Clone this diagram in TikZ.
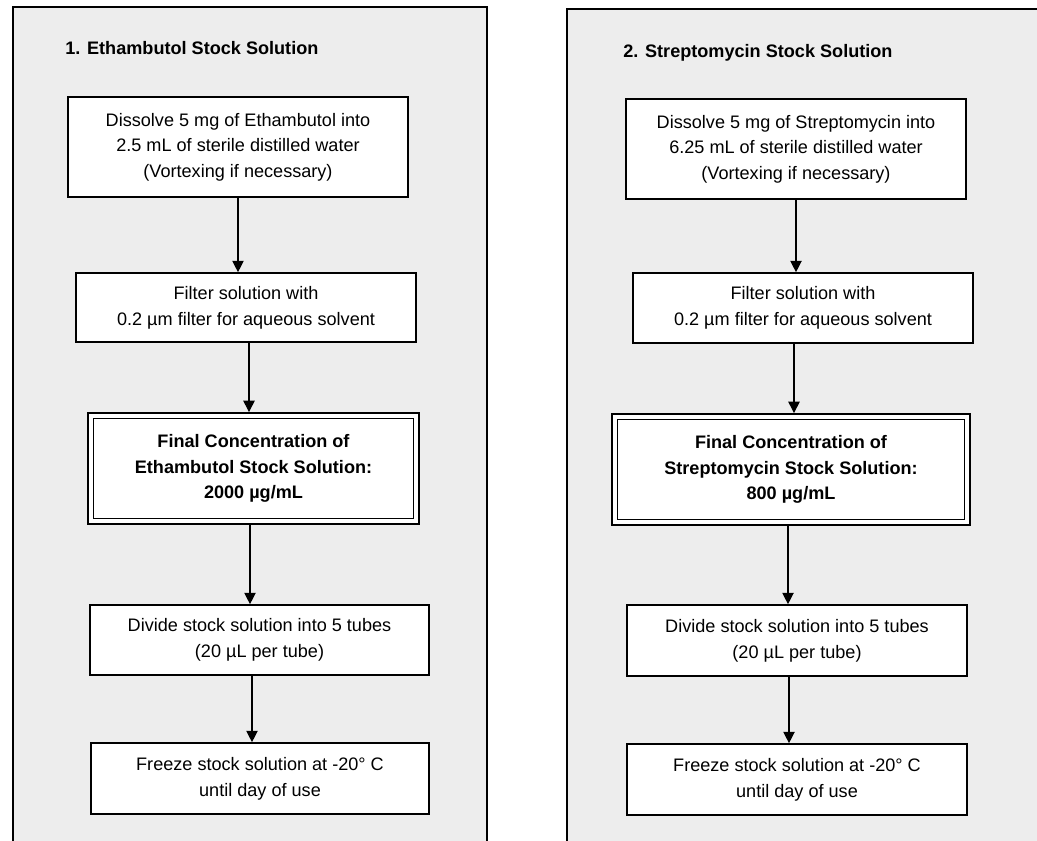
\documentclass[tikz,border=0pt]{standalone}
\usepackage{fontspec}
\setmainfont{Liberation Sans}
\usetikzlibrary{arrows.meta,positioning}

\begin{document}
\begin{tikzpicture}[x=0.02cm,y=-0.02cm,
    panel/.style={draw, line width=1.6pt, fill=black!7},
    stepbox/.style={draw, line width=0.95pt, fill=white, align=center, inner sep=0pt,
      font=\fontsize{10.3}{14.6}\selectfont},
    finalbox/.style={stepbox, double, double distance=2.2pt, line width=1pt, outer sep=2.1pt,
      font=\fontsize{10.3}{14.6}\selectfont\bfseries},
    heading/.style={anchor=base west, inner sep=0pt, font=\fontsize{10.3}{12}\selectfont\bfseries},
    flow/.style={line width=0.7pt, -{Triangle[length=6.5pt,width=6.5pt]}}]
        \useasboundingbox (0,0) rectangle (1037,841);
        \clip (0,0) rectangle (1037,841);
        % the two panels
        \draw[panel] (13,7) rectangle (487,860);
        \draw[panel] (567,9) rectangle (1060,860);
        % 1. Ethambutol
        \node[heading] (titleE) at (65,55) {1. Ethambutol Stock Solution};
        \node[stepbox, minimum width=6.8cm, minimum height=2cm] (eDissolve) at (238,147)
          {Dissolve 5 mg of Ethambutol into\\2.5 mL of sterile distilled water\\(Vortexing if necessary)};
        \node[stepbox, minimum width=6.8cm, minimum height=1.38cm] (eFilter) at (246,307.5)
          {Filter solution with\\0.2 µm filter for aqueous solvent};
        \node[finalbox, minimum width=6.51cm, minimum height=2.11cm] (eFinal) at (253.5,468.5)
          {Final Concentration of\\Ethambutol Stock Solution:\\2000 µg/mL};
        \node[stepbox, minimum width=6.78cm, minimum height=1.4cm] (eDivide) at (259.5,640)
          {Divide stock solution into 5 tubes\\(20 µL per tube)};
        \node[stepbox, minimum width=6.76cm, minimum height=1.42cm] (eFreeze) at (260,778.5)
          {Freeze stock solution at -20° C\\until day of use};
        % 2. Streptomycin
        \node[heading] (titleS) at (623,58) {2. Streptomycin Stock Solution};
        \node[stepbox, minimum width=6.8cm, minimum height=2cm] (sDissolve) at (796,149)
          {Dissolve 5 mg of Streptomycin into\\6.25 mL of sterile distilled water\\(Vortexing if necessary)};
        \node[stepbox, minimum width=6.8cm, minimum height=1.4cm] (sFilter) at (803,308)
          {Filter solution with\\0.2 µm filter for aqueous solvent};
        \node[finalbox, minimum width=7.05cm, minimum height=2.11cm] (sFinal) at (791,469.5)
          {Final Concentration of\\Streptomycin Stock Solution:\\800 µg/mL};
        \node[stepbox, minimum width=6.8cm, minimum height=1.42cm] (sDivide) at (797,640.5)
          {Divide stock solution into 5 tubes\\(20 µL per tube)};
        \node[stepbox, minimum width=6.8cm, minimum height=1.42cm] (sFreeze) at (797,779.5)
          {Freeze stock solution at -20° C\\until day of use};
        % arrows (shift in px)
        \foreach \a/\b/\s in {eDissolve/eFilter/0, eFilter/eFinal/3, eFinal/eDivide/-3.5, eDivide/eFreeze/-7.5,
            sDissolve/sFilter/0, sFilter/sFinal/-9, sFinal/sDivide/-3, sDivide/sFreeze/-8} {
          \draw[flow] ([xshift=\s*0.02cm]\a.south) coordinate (t) -- (t |- \b.north);
        }
      \end{tikzpicture}
\end{document}
